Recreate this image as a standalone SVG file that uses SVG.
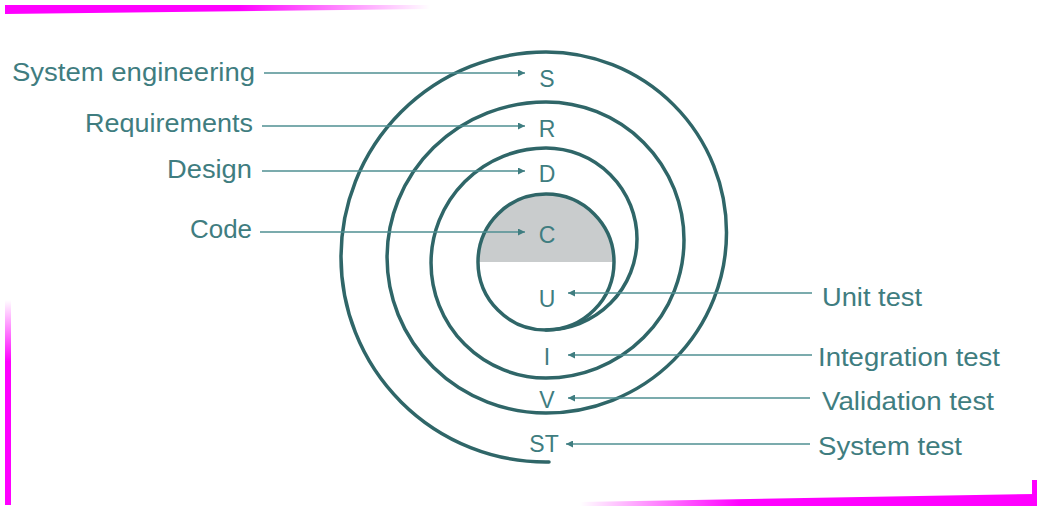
<svg xmlns="http://www.w3.org/2000/svg" width="1040" height="508" viewBox="0 0 1040 508">
  <defs>
    <style>
      .lbl { font-family: "Liberation Sans", Arial, sans-serif; font-size: 25px; fill: #3f7d80; }
      .let { font-family: "Liberation Sans", Arial, sans-serif; font-size: 23px; fill: #3f7d80; text-anchor: middle; }
      .spiral { fill: none; stroke: #2f6668; stroke-width: 3.5; stroke-linecap: round; }
      .arrow { fill: none; stroke: #4f8f92; stroke-width: 1.6; }
    </style>
    <marker id="ah" viewBox="0 0 10 10" refX="10" refY="5" markerWidth="9" markerHeight="7" markerUnits="userSpaceOnUse" orient="auto">
      <path d="M0,0 L10,5 L0,10 Z" fill="#3f7d80"/>
    </marker>
    <linearGradient id="gTop" x1="0" y1="0" x2="1" y2="0">
      <stop offset="0" stop-color="#ff00ff"/>
      <stop offset="0.55" stop-color="#ff00ff"/>
      <stop offset="1" stop-color="#ff00ff" stop-opacity="0"/>
    </linearGradient>
    <linearGradient id="gBot" x1="0" y1="0" x2="1" y2="0">
      <stop offset="0" stop-color="#ff00ff" stop-opacity="0"/>
      <stop offset="0.35" stop-color="#ff00ff"/>
      <stop offset="1" stop-color="#ff00ff"/>
    </linearGradient>
    <linearGradient id="gLeft" x1="0" y1="0" x2="0" y2="1">
      <stop offset="0" stop-color="#ff00ff" stop-opacity="0"/>
      <stop offset="0.3" stop-color="#ff00ff"/>
      <stop offset="1" stop-color="#ff00ff"/>
    </linearGradient>
  </defs>

  <rect width="1040" height="508" fill="#ffffff"/>

  <!-- scan edge artifacts -->
  <polygon points="5,5 430,5 430,9 5,14" fill="url(#gTop)"/>
  <rect x="5" y="300" width="6" height="205" fill="url(#gLeft)"/>
  <polygon points="580,502 1035,494 1035,506 580,506" fill="url(#gBot)"/>
  <rect x="1032" y="480" width="5" height="26" fill="#ff00ff"/>

  <!-- spiral / core -->
  <g id="core">
    <path d="M478,262 A68,68 0 0 1 614,262 Z" fill="#c9cccd"/>
    <circle cx="546" cy="262" r="68" class="spiral"/>
  </g>
  <g id="spiral">
    <path class="spiral" d="M546,330 A91,91 0 0 0 546,148 A115,115 0 0 0 546,378 A138,138 0 0 0 546,102 A159,155.5 0 0 0 546,413 A180.5,180.5 0 0 0 546,52 A205,205 0 0 0 546,462 L549,462"/>
  </g>

  <!-- connectors -->
  <g id="connectors">
    <line class="arrow" x1="264" y1="73" x2="525" y2="73" marker-end="url(#ah)"/>
    <line class="arrow" x1="262" y1="126" x2="525" y2="126" marker-end="url(#ah)"/>
    <line class="arrow" x1="262" y1="171" x2="525" y2="171" marker-end="url(#ah)"/>
    <line class="arrow" x1="260" y1="232" x2="525" y2="232" marker-end="url(#ah)"/>
    <line class="arrow" x1="812" y1="293" x2="568" y2="293" marker-end="url(#ah)"/>
    <line class="arrow" x1="812" y1="355" x2="568" y2="355" marker-end="url(#ah)"/>
    <line class="arrow" x1="810" y1="398" x2="568" y2="398" marker-end="url(#ah)"/>
    <line class="arrow" x1="810" y1="444" x2="566" y2="444" marker-end="url(#ah)"/>
  </g>

  <!-- labels -->
  <g id="label-system-engineering"><text class="lbl" x="12" y="81" textLength="243" lengthAdjust="spacingAndGlyphs">System engineering</text></g>
  <g id="label-requirements"><text class="lbl" x="85" y="132" textLength="168" lengthAdjust="spacingAndGlyphs">Requirements</text></g>
  <g id="label-design"><text class="lbl" x="167" y="178" textLength="85" lengthAdjust="spacingAndGlyphs">Design</text></g>
  <g id="label-code"><text class="lbl" x="190" y="238" textLength="62" lengthAdjust="spacingAndGlyphs">Code</text></g>
  <g id="label-unit-test"><text class="lbl" x="822" y="306" textLength="100" lengthAdjust="spacingAndGlyphs">Unit test</text></g>
  <g id="label-integration-test"><text class="lbl" x="818" y="366" textLength="182" lengthAdjust="spacingAndGlyphs">Integration test</text></g>
  <g id="label-validation-test"><text class="lbl" x="822" y="410" textLength="172" lengthAdjust="spacingAndGlyphs">Validation test</text></g>
  <g id="label-system-test"><text class="lbl" x="818" y="455" textLength="144" lengthAdjust="spacingAndGlyphs">System test</text></g>

  <!-- spiral letters -->
  <g id="node-S"><text class="let" x="547" y="87">S</text></g>
  <g id="node-R"><text class="let" x="547" y="137">R</text></g>
  <g id="node-D"><text class="let" x="547" y="182">D</text></g>
  <g id="node-C"><text class="let" x="547" y="243">C</text></g>
  <g id="node-U"><text class="let" x="547" y="307">U</text></g>
  <g id="node-I"><text class="let" x="547" y="365">I</text></g>
  <g id="node-V"><text class="let" x="547" y="408">V</text></g>
  <g id="node-ST"><text class="let" x="544" y="452">ST</text></g>
</svg>
